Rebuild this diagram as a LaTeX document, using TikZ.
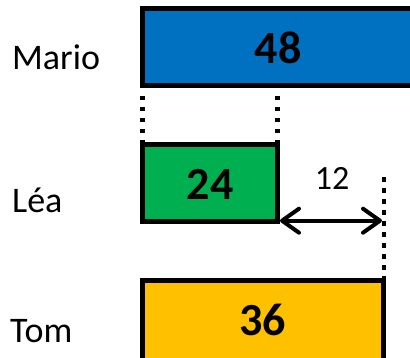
\documentclass[tikz,border=0pt]{standalone}
\usepackage{fontspec}
\setmainfont{Carlito}
\usetikzlibrary{arrows.meta}
\definecolor{barblue}{HTML}{0070C0}
\definecolor{bargreen}{HTML}{00B050}
\definecolor{baryellow}{HTML}{FFC000}
\begin{document}
\begin{tikzpicture}[x=1pt,y=-1pt,
  bar/.style={draw=black,line width=5pt,rectangle,inner sep=0pt,outer sep=0pt,anchor=north west},
  who/.style={anchor=base west,font=\fontsize{36}{40}\selectfont,inner sep=0pt},
  val/.style={anchor=base,font=\fontsize{46}{50}\selectfont\bfseries,inner sep=0pt},
  diff/.style={anchor=base,font=\fontsize{34}{38}\selectfont,inner sep=0pt},
  guide/.style={line width=4.5pt,dash pattern=on 4.5pt off 6.5pt},
  dimarrow/.style={line width=4pt,{Straight Barb[length=17pt,width=24pt,round]}-{Straight Barb[length=17pt,width=24pt,round]}}]
\useasboundingbox (0,0) rectangle (410,358);
\clip (0,0) rectangle (410,358);
% bars
\node[bar,fill=barblue,minimum width=271pt,minimum height=77pt] (mario) at (142.5,8.5) {};
\node[bar,fill=bargreen,minimum width=135pt,minimum height=77pt] (lea) at (142.5,145) {};
\node[bar,fill=baryellow,minimum width=241pt,minimum height=100pt] (tom) at (142.5,280.5) {};
% values
\node[val] (v48) at (278,63.3) {48};
\node[val] (v24) at (210,199.3) {24};
\node[val] (v36) at (262.5,335) {36};
% names
\node[who] (nmario) at (12,70) {Mario};
\node[who] (nlea) at (12,213) {Léa};
\node[who] (ntom) at (10,342) {Tom};
% dotted guides
\draw[guide,shorten <=10.5pt] (mario.south west) -- (lea.north west);
\draw[guide,shorten <=10.5pt] (lea.north east |- mario.south) -- (lea.north east);
\coordinate (gtop) at (384,177.5);
\draw[guide] (gtop) -- (gtop |- tom.north);
% dimension arrow
\coordinate (aL) at (280,220.7);
\coordinate (aR) at (382,220.7);
\draw[dimarrow] (aL) -- (aR);
\node[diff] (d12) at (332,190) {12};
\end{tikzpicture}
\end{document}
